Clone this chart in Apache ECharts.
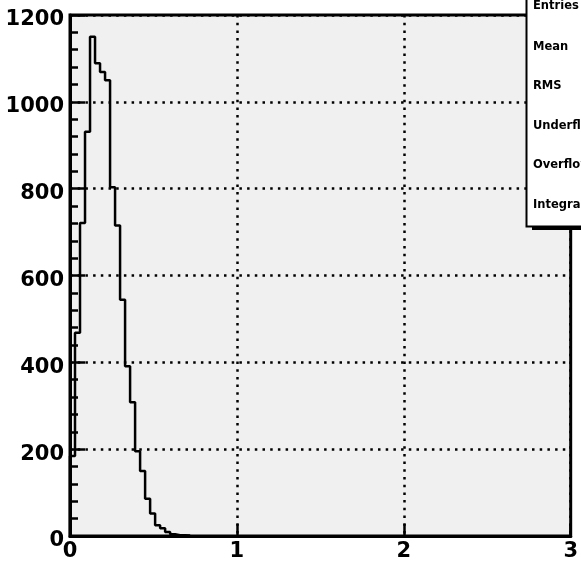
<!DOCTYPE html>
<html>
<head>
<meta charset="utf-8">
<script src="https://cdn.jsdelivr.net/npm/echarts@6/dist/echarts.min.js"></script>
<style>
  html, body { margin: 0; padding: 0; background: #fff; }
  #main { width: 581px; height: 562px; }
</style>
</head>
<body>
<div id="main"></div>
<script>
// bin contents, 0.03 wide bins starting at 0
var binWidth = 0.03;
var counts = [184, 468, 721, 931, 1150, 1089, 1069, 1050, 803, 715, 544, 391,
              308, 195, 150, 86, 52, 25, 18, 9, 4, 2, 2, 1];
var xTicks = [0, 1, 2, 3];
var yTicks = [0, 200, 400, 600, 800, 1000, 1200];
var statNames = ['Entries', 'Mean', 'RMS', 'Underflow', 'Overflow', 'Integral'];
var statRows = [6, 47, 86, 126, 165, 205];

// step outline: left edge of each bin, then close down to zero
var stepData = [[0, 0]];
for (var i = 0; i < counts.length; i++) {
    stepData.push([+(i * binWidth).toFixed(4), counts[i]]);
}
stepData.push([+(counts.length * binWidth).toFixed(4), 0]);

var font = '"DejaVu Sans", Verdana, sans-serif';
var dots = { color: '#000', width: 2.5, type: [2.5, 5.2] };

var chart = echarts.init(document.getElementById('main'), null, { renderer: 'canvas' });

var statText = statNames.map(function (name, k) {
    return {
        type: 'text', z: 102,
        style: { text: name, x: 533, y: statRows[k], fill: '#000',
                 font: 'bold 11.5px ' + font, verticalAlign: 'middle' }
    };
});

chart.setOption({
    animation: false,
    backgroundColor: '#ffffff',
    grid: {
        left: 70, right: 4, top: 15, bottom: 25,
        show: true, backgroundColor: '#f0f0f0', borderColor: '#000', borderWidth: 3
    },
    xAxis: {
        type: 'value', min: 0, max: 3, interval: 1,
        axisLine: { show: true, onZero: false, lineStyle: { color: '#000', width: 3 } },
        axisTick: { show: true, inside: true, length: 12, lineStyle: { color: '#000', width: 2.5 } },
        axisLabel: {
            show: true, margin: 5, color: '#000', fontFamily: font,
            fontWeight: 'bold', fontSize: 21,
            formatter: function (v) { return xTicks.indexOf(v) >= 0 ? String(v) : ''; }
        },
        splitLine: { show: true, lineStyle: dots }
    },
    yAxis: {
        type: 'value', min: 0, max: 1200, interval: 200,
        axisLine: { show: true, lineStyle: { color: '#000', width: 3 } },
        axisTick: { show: true, inside: true, length: 15, lineStyle: { color: '#000', width: 2.5 } },
        minorTick: { show: true, splitNumber: 5, length: 8, lineStyle: { color: '#000', width: 2.5 } },
        axisLabel: {
            show: true, margin: 6, color: '#000',
            formatter: function (v) { return yTicks.indexOf(v) >= 0 ? '{v|' + v + '}' : ''; },
            rich: {
                v: { fontFamily: font, fontWeight: 'bold', fontSize: 21, color: '#000',
                     padding: [10, 0, 0, 0] }
            }
        },
        splitLine: { show: true, lineStyle: dots }
    },
    series: [{
        type: 'line',
        step: 'end',
        data: stepData,
        showSymbol: false,
        symbol: 'none',
        lineStyle: { color: '#000', width: 2.5 },
        z: 5
    }],
    graphic: [
        { type: 'rect', z: 100, shape: { x: 532, y: -10, width: 60, height: 240 },
          style: { fill: '#000' } },
        { type: 'rect', z: 101, shape: { x: 526.5, y: -10, width: 70, height: 236.5 },
          style: { fill: '#fff', stroke: '#000', lineWidth: 2 } }
    ].concat(statText)
});
</script>
</body>
</html>
